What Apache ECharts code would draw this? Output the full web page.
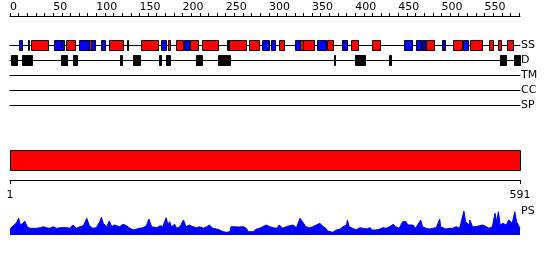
<!DOCTYPE html>
<html><head><meta charset="utf-8">
<script src="https://cdn.jsdelivr.net/npm/echarts@6/dist/echarts.min.js"></script>
<style>html,body{margin:0;padding:0;background:#fff}#c{width:550px;height:260px}</style>
</head><body><div id="c"></div>
<script>
const seqLength = 591;
const trackNames = ['SS', 'D', 'TM', 'CC', 'SP'];
const profileName = 'PS';
const rulerLabels = [1, 591];
// secondary structure (residue ranges)
const helixSegments = [[24,44],[65,75],[91,94],[115,131],[152,171],[183,185],[192,201],[209,218],[222,241],[254,274],[277,289],[312,317],[336,339],[339,352],[367,374],[395,403],[420,429],[482,491],[513,524],[533,547],[555,560],[566,569],[576,583]];
const strandSegments = [[10,14],[51,59],[59,62],[80,91],[94,98],[105,110],[175,181],[202,208],[292,300],[302,307],[330,336],[356,366],[385,391],[456,466],[470,476],[478,481],[501,504],[525,531]];
const shortSegments = [[21,22],[136,137],[252,254]];
// disorder
const disorderSegments = [[1,8],[14,25],[59,66],[73,78],[127,130],[143,151],[173,175],[181,185],[216,223],[241,255],[375,377],[400,411],[439,441],[568,575],[584,591]];
const tmSegments = [];
const ccSegments = [];
const spSegments = [];
// domain bar
const domainSegments = [[1,591]];
// profile score
const psResidue = [0,2,4,6,8,10,12,13,15,17,20,21,23,27,31,35,39,42,46,50,54,58,66,69,73,75,77,81,85,89,92,96,100,104,106,108,112,115,118,121,127,131,135,139,143,147,150,154,158,161,164,166,170,174,177,181,183,185,187,191,193,197,201,204,208,212,216,220,224,228,231,235,239,243,247,251,255,256,258,266,270,274,276,282,285,289,293,297,301,305,309,312,316,320,324,328,332,336,337,339,343,347,351,355,359,361,363,366,368,370,374,378,382,386,390,391,393,397,401,405,409,413,417,420,424,428,432,436,440,444,447,451,455,457,459,461,463,467,470,476,478,482,486,490,494,498,499,501,505,509,513,517,521,523,526,528,532,533,536,540,544,548,552,555,559,562,564,566,568,571,575,578,580,582,585,587,589,591];
const psScore = [5,8,6.7,10.7,13.3,16.7,10,8.3,11.7,14,8.3,6.7,6.7,6.7,6.7,7.3,8.3,7.3,6.7,8.3,6.7,7.3,7.3,6.7,10,10.7,6.7,8.3,9.3,16.7,9.3,6.7,7.3,13.3,17.7,11.7,8.3,14,8.3,10,8.3,10.7,9.3,6.7,5,6,6.7,7.3,9.3,16,8.3,10,7.3,9.3,8.3,17.3,10,13.3,8.3,10.7,6.7,8.3,15,8.3,10,8.3,7.3,8.3,6.7,8.3,10,6.7,6,5,3.3,2.7,3.3,8.3,7.3,8,8.3,6.7,3.3,3.3,5.7,6.7,8.3,10,8.3,7.3,6.7,10,6.7,8.3,9.3,10,7.3,16.7,17.3,13.3,8.3,7.3,8.3,10,11.7,13.3,8.3,6.7,4,2.3,2.7,5,5.7,8.3,10,15,8.3,6.7,5,7.3,6.7,6,7.3,5,5,5.7,7.3,6.7,8.3,10.7,8.3,6.7,13.3,14,13.3,10,8.3,10,6.7,15,8.3,6.7,6,6.7,7.3,16,8.3,6.7,6,6.7,6.7,8.3,6.7,8.3,24,13.3,10,15,8.3,8.3,9.3,10,8.3,6.7,8.3,21.7,13.3,23.3,10,11.7,10,15,16.7,11.7,23.3,13.3,10,6.7];

const FONT = 'DejaVu Sans';
const chart = echarts.init(document.getElementById('c'), null, {renderer: 'canvas'});

const trackCenters = [45, 60, 75, 90, 105];
const grids = [];
const xAxes = [];
const yAxes = [];
const series = [];

// grid 0 : top ruler
grids.push({left: 10, width: 510, top: 15, height: 1});
xAxes.push({gridIndex: 0, type: 'value', position: 'top', min: 0, max: seqLength, interval: 10,
  axisLine: {lineStyle: {color: '#000', width: 1}},
  axisTick: {length: 3, lineStyle: {color: '#000'}},
  splitLine: {show: false},
  axisLabel: {showMaxLabel: false, margin: 2, align: 'left', color: '#000', fontFamily: FONT, fontSize: 11,
    formatter: v => (v % 50 === 0 ? String(v) : '')}
});
yAxes.push({gridIndex: 0, type: 'value', show: false});

function segRender(fill, stroke) {
  return function (params, api) {
    const s = api.coord([api.value(0), 0]);
    const e = api.coord([api.value(1), 0]);
    const h = api.size([0, 2])[1];
    const x0 = Math.round(s[0]) + 0.5;
    const x1 = Math.round(e[0]) + 0.5;
    const y0 = Math.round(s[1] - h / 2) + 0.5;
    return {type: 'rect', shape: {x: x0, y: y0, width: Math.max(x1 - x0, 0.5), height: Math.round(h)},
      style: {fill: fill, stroke: stroke, lineWidth: 1}};
  };
}

const trackSeries = [
  [[helixSegments, '#ff0000'], [strandSegments, '#0000ff'], [shortSegments, '#000000']],
  [[disorderSegments, '#000000']],
  [[tmSegments, '#000000']],
  [[ccSegments, '#000000']],
  [[spSegments, '#000000']]
];

trackNames.forEach((name, i) => {
  const gi = grids.length;
  grids.push({left: 10, width: 510, top: trackCenters[i] - 5, height: 10});
  xAxes.push({gridIndex: gi, type: 'value', min: 0, max: seqLength,
    axisLine: {show: true, onZero: true, lineStyle: {color: '#000', width: 1}},
    axisTick: {show: false}, axisLabel: {show: false}, splitLine: {show: false}});
  yAxes.push({gridIndex: gi, type: 'value', min: -1, max: 1, show: false});
  trackSeries[i].forEach(([segs, color]) => {
    series.push({type: 'custom', xAxisIndex: gi, yAxisIndex: gi, silent: true,
      renderItem: segRender(color, '#000'), data: segs});
  });
});

// domain bar
const gBar = grids.length;
grids.push({left: 10, width: 510, top: 150, height: 20});
xAxes.push({gridIndex: gBar, type: 'value', min: 1, max: seqLength, show: false});
yAxes.push({gridIndex: gBar, type: 'value', min: -1, max: 1, show: false});
series.push({type: 'custom', xAxisIndex: gBar, yAxisIndex: gBar, silent: true,
  renderItem: segRender('#ff0000', '#000'), data: domainSegments});

// bottom ruler
const gRuler = grids.length;
grids.push({left: 10, width: 510, top: 180, height: 0});
xAxes.push({gridIndex: gRuler, type: 'value', position: 'bottom', min: rulerLabels[0], max: rulerLabels[1], interval: rulerLabels[1] - rulerLabels[0],
  axisLine: {lineStyle: {color: '#000', width: 1}},
  axisTick: {length: 4, lineStyle: {color: '#000'}},
  splitLine: {show: false},
  axisLabel: {margin: 10, color: '#000', fontFamily: FONT, fontSize: 11}
});
yAxes.push({gridIndex: gRuler, type: 'value', show: false});

// profile
const gPS = grids.length;
grids.push({left: 10, width: 510, top: 205, height: 30});
xAxes.push({gridIndex: gPS, type: 'value', min: 0, max: seqLength, show: false});
yAxes.push({gridIndex: gPS, type: 'value', min: 0, max: 30, show: false});
series.push({type: 'line', xAxisIndex: gPS, yAxisIndex: gPS, silent: true, showSymbol: false, animation: false,
  data: psResidue.map((r, i) => [r, psScore[i]]),
  lineStyle: {color: '#0000ff', width: 1}, areaStyle: {color: '#0000ff', opacity: 1}});

const labelGraphics = trackNames.map((name, i) => ({
  type: 'text', left: 521, top: trackCenters[i] - 5,
  style: {text: name, fill: '#000', font: '11px "' + FONT + '"'}
}));
labelGraphics.push({type: 'text', left: 521, top: 206, style: {text: profileName, fill: '#000', font: '11px "' + FONT + '"'}});

chart.setOption({
  animation: false,
  backgroundColor: '#fff',
  grid: grids, xAxis: xAxes, yAxis: yAxes, series: series,
  graphic: labelGraphics
});
</script></body></html>
